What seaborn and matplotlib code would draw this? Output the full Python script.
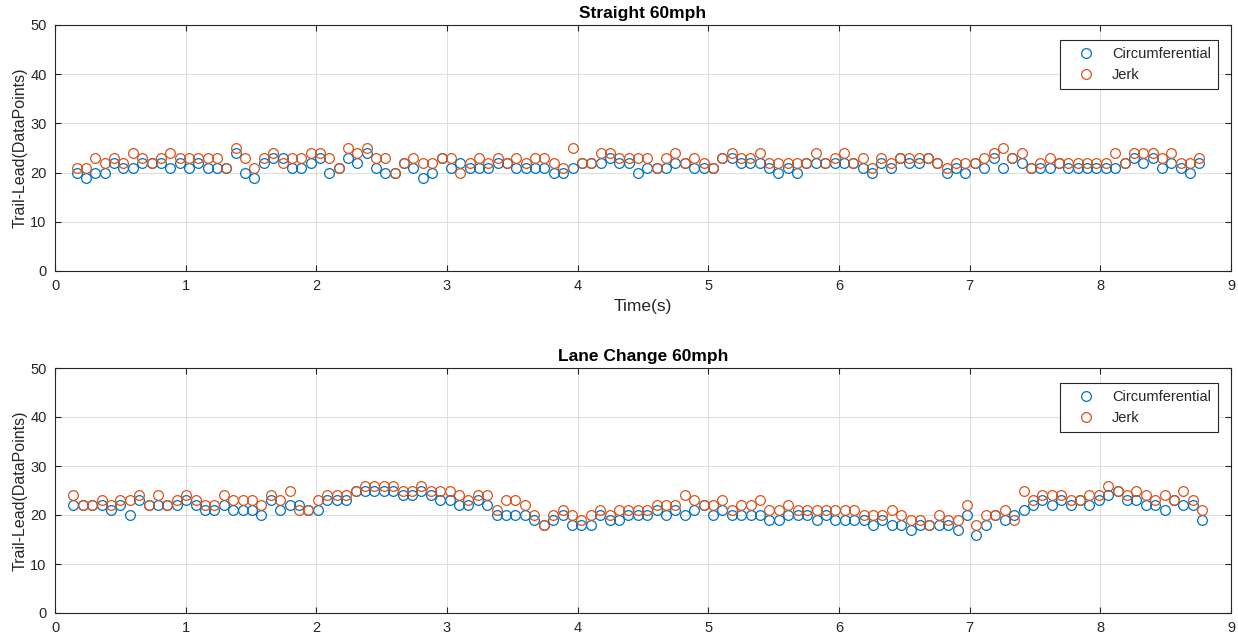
import numpy as np
import pandas as pd
import matplotlib
matplotlib.use("Agg")
import matplotlib.pyplot as plt
import seaborn as sns

# ---- data -------------------------------------------------------------
# Sample timing (uniform sampling of each run)
straight_t0, straight_dt = 0.166, 0.0716
lane_t0, lane_dt = 0.140, 0.0720

straight_circ = [
    20, 19, 20, 20, 22, 21, 21, 22, 22, 22, 21, 22, 21, 22, 21, 21, 21, 24, 20, 19,
    22, 23, 23, 21, 21, 22, 23, 20, 21, 23, 22, 24, 21, 20, 20, 22, 21, 19, 20, 23,
    21, 22, 21, 21, 21, 22, 22, 21, 21, 21, 21, 20, 20, 21, 22, 22, 22, 23, 22, 22, 20,
    21, 21, 21, 22, 22, 21, 21, 21, 23, 23, 22, 22, 22, 21, 20, 21, 20, 22, 22, 22, 22,
    22, 22, 21, 20, 22, 21, 23, 22, 22, 23, 22, 20, 21, 20, 22, 21, 23, 21, 23, 22, 21,
    21, 21, 22, 21, 21, 21, 21, 21, 21, 22, 23, 22, 23, 21, 22, 21, 20, 22,
]
straight_jerk = [
    21, 21, 23, 22, 23, 22, 24, 23, 22, 23, 24, 23, 23, 23, 23, 23, 21, 25, 23, 21,
    23, 24, 22, 23, 23, 24, 24, 23, 21, 25, 24, 25, 23, 23, 20, 22, 23, 22, 22, 23,
    23, 20, 22, 23, 22, 23, 22, 23, 22, 23, 23, 22, 21, 25, 22, 22, 24, 24, 23, 23, 23,
    23, 21, 23, 24, 22, 23, 22, 21, 23, 24, 23, 23, 24, 22, 22, 22, 22, 22, 24, 22, 23,
    24, 22, 23, 21, 23, 22, 23, 23, 23, 23, 22, 21, 22, 22, 22, 23, 24, 25, 23, 24, 21,
    22, 23, 22, 22, 22, 22, 22, 22, 24, 22, 24, 24, 24, 23, 24, 22, 22, 23,
]

lane_circ = [
    22, 22, 22, 22, 21, 22, 20, 23, 22, 22, 22, 22, 23, 22, 21, 21, 22, 21, 21, 21,
    20, 23, 21, 22, 22, 21, 21, 23, 23, 23, 25, 25, 25, 25, 25, 24, 24, 25, 24, 23,
    23, 22, 22, 23, 22, 20, 20, 20, 20, 19, 18, 19, 20, 18, 18, 18, 20, 19, 19, 20,
    20, 20, 21, 20, 21, 20, 21, 22, 20, 21, 20, 20, 20, 20, 19, 19, 20, 20, 20, 19, 20,
    19, 19, 19, 19, 18, 19, 18, 18, 17, 18, 18, 18, 18, 17, 20, 16, 18, 20, 19, 20, 21,
    22, 23, 22, 23, 22, 23, 22, 23, 24, 25, 23, 23, 22, 22, 21, 23, 22, 22, 19,
]
lane_jerk = [
    24, 22, 22, 23, 22, 23, 23, 24, 22, 24, 22, 23, 24, 23, 22, 22, 24, 23, 23, 23,
    22, 24, 23, 25, 21, 21, 23, 24, 24, 24, 25, 26, 26, 26, 26, 25, 25, 26, 25, 25,
    25, 24, 23, 24, 24, 21, 23, 23, 22, 20, 18, 20, 21, 20, 19, 20, 21, 20, 21, 21,
    21, 21, 22, 22, 22, 24, 23, 22, 22, 23, 21, 22, 22, 23, 21, 21, 22, 21, 21, 21, 21,
    21, 21, 21, 20, 20, 20, 21, 20, 19, 19, 18, 20, 19, 19, 22, 18, 20, 20, 21, 19, 25,
    23, 24, 24, 24, 23, 23, 24, 24, 26, 25, 24, 25, 24, 23, 24, 23, 25, 23, 21,
]

panel_titles = ["Straight 60mph", "Lane Change 60mph"]
series_names = ["Circumferential", "Jerk"]
x_ticks = list(range(0, 10))
y_ticks = list(range(0, 60, 10))

# ---- style ------------------------------------------------------------
BLUE = "#0072BD"
ORANGE = "#D95319"
AXCOL = "#262626"
GRIDCOL = "#DFDFDF"

sns.set_theme(style="white")
plt.rcParams["font.family"] = ["Liberation Sans", "DejaVu Sans"]
plt.rcParams["axes.edgecolor"] = AXCOL
plt.rcParams["axes.linewidth"] = 0.8

W, H = 1238, 640
fig = plt.figure(figsize=(W / 100, H / 100), dpi=100)
ax_top = fig.add_axes([55 / W, 1 - 271 / H, 1176 / W, 246 / H])
ax_bot = fig.add_axes([55 / W, 1 - 613 / H, 1176 / W, 245 / H])


def draw_panel(ax, t0, dt, circ, jerk, title, xlabel=None):
    n = len(circ)
    t = t0 + dt * np.arange(n)
    df = pd.DataFrame({"t": t, series_names[0]: circ, series_names[1]: jerk})
    long = df.melt(id_vars="t", var_name="method", value_name="value")
    for name, color in zip(series_names, [BLUE, ORANGE]):
        sub = long[long["method"] == name]
        sns.lineplot(
            data=sub, x="t", y="value", ax=ax, estimator=None,
            linestyle="none", marker="o", markersize=7,
            markerfacecolor="none", markeredgecolor=color,
            markeredgewidth=0.9, color=color, label=name,
        )
    ax.set_xlim(0, 9)
    ax.set_ylim(0, 50)
    ax.set_xticks(x_ticks)
    ax.set_yticks(y_ticks)
    ax.grid(True, color=GRIDCOL, linewidth=0.8)
    ax.set_axisbelow(True)
    for s in ax.spines.values():
        s.set_visible(True)
        s.set_color(AXCOL)
        s.set_linewidth(0.8)
    ax.tick_params(direction="in", length=4, width=0.8, color=AXCOL,
                   labelsize=10.5, labelcolor=AXCOL, top=True, right=True,
                   bottom=True, left=True, pad=6)
    ax.set_title(title, fontsize=12.5, fontweight="bold", color="black", pad=5)
    ax.set_ylabel("Trail-Lead(DataPoints)", fontsize=11.5, color=AXCOL, labelpad=2)
    ax.set_xlabel(xlabel if xlabel else "", fontsize=12.5, color=AXCOL, labelpad=4)
    leg = ax.legend(loc="upper right", bbox_to_anchor=(0.989, 0.939),
                    borderaxespad=0, fancybox=False, framealpha=1,
                    edgecolor=AXCOL, fontsize=10.5, handlelength=2.6,
                    handletextpad=0.45, borderpad=0.5, labelspacing=0.45)
    leg.get_frame().set_linewidth(0.8)


draw_panel(ax_top, straight_t0, straight_dt, straight_circ, straight_jerk,
           panel_titles[0], xlabel="Time(s)")
draw_panel(ax_bot, lane_t0, lane_dt, lane_circ, lane_jerk, panel_titles[1])

fig.savefig("out.png", dpi=100)
